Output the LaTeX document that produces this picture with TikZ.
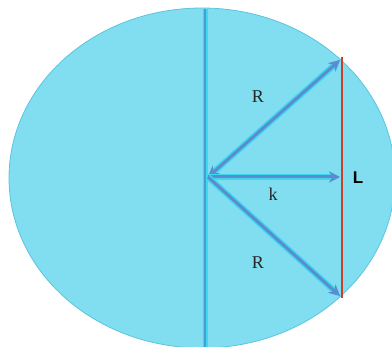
\documentclass[tikz,border=0pt]{standalone}
\usepackage{fontspec}
\usepackage{tikz}
\usetikzlibrary{arrows.meta, positioning}
\newfontfamily\chordfont{Liberation Sans}
\newfontfamily\rayfont{Liberation Serif}
\definecolor{discfill}{HTML}{80DEF0}
\definecolor{discedge}{HTML}{5CC4DC}
\definecolor{axisblue}{HTML}{4A9CD8}
\definecolor{rayblue}{HTML}{5A8CCF}
\definecolor{rayglow}{HTML}{3FD6EE}
\definecolor{chordred}{HTML}{C8402A}

\begin{document}
\begin{tikzpicture}[x=1pt, y=-1pt,
    ray/.style={draw=rayblue, line width=3pt, preaction={draw=rayglow, line width=6pt}},
    lbl/.style={font=\rayfont\fontsize{18}{18}\selectfont, text=black!85}]
    \useasboundingbox (0,0) rectangle (392,347);

    % Disc
    \draw[draw=discedge, fill=discfill, line width=0.8pt] (202,178) ellipse (193pt and 170pt);

    % Points
    \coordinate (axtop) at (205,9);
    \coordinate (axbot) at (205,347);
    \coordinate (O) at (208,177);
    \coordinate (A) at (340,60);
    \coordinate (M) at (340,177);
    \coordinate (B) at (340,296);
    \coordinate (P) at (342,57);
    \coordinate (Q) at (342,298);

    % Axis
    \draw[draw=axisblue, line width=2pt, preaction={draw=rayglow, line width=5pt}] (axtop) -- (axbot);

    % Rays
    \draw[ray, {Stealth[length=11pt, width=11pt]}-{Stealth[length=11pt, width=11pt]}] (O) -- (A);
    \draw[ray, -{Stealth[length=11pt, width=11pt]}] (O) -- (M);
    \draw[ray, -{Stealth[length=11pt, width=11pt]}] (O) -- (B);

    % Chord
    \draw[chordred, line width=2pt] (P) -- (Q);

    % Labels
    \node[lbl] (rtop) at (258,97) {R};
    \node[lbl] (klbl) at (273,194) {k};
    \node[lbl] (rbot) at (258,263) {R};
    \node[font=\chordfont\bfseries\fontsize{17}{17}\selectfont] (lchord) at (358,178) {L};
\end{tikzpicture}
\end{document}
